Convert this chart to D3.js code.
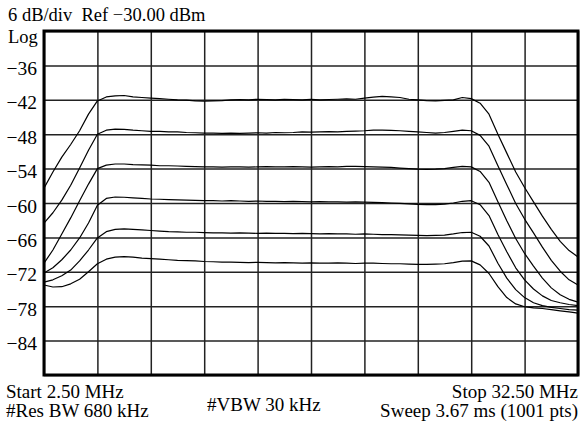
<!DOCTYPE html>
<html><head><meta charset="utf-8">
<script src="https://cdn.jsdelivr.net/npm/d3@7"></script>
<style>html,body{margin:0;padding:0;background:#fff;} svg{display:block;} text{white-space:pre;}</style>
</head><body>
<script>
const freqs = [2.5,3.0,3.5,4.0,4.5,5.0,5.5,6.0,6.5,7.0,7.5,8.0,8.5,9.0,9.5,10.0,10.5,11.0,11.5,12.0,12.5,13.0,13.5,14.0,14.5,15.0,15.5,16.0,16.5,17.0,17.5,18.0,18.5,19.0,19.5,20.0,20.5,21.0,21.5,22.0,22.5,23.0,23.5,24.0,24.5,25.0,25.5,26.0,26.5,27.0,27.5,28.0,28.5,29.0,29.5,30.0,30.5,31.0,31.5,32.0,32.5];
const trace1 = [-57.4,-54.6,-52.0,-49.8,-47.4,-44.5,-42.2,-41.5,-41.3,-41.25,-41.5,-41.6,-41.7,-41.8,-41.9,-42.0,-42.05,-42.2,-42.25,-42.2,-42.15,-42.0,-41.95,-42.0,-41.9,-41.95,-42.0,-41.9,-41.95,-42.0,-41.9,-42.0,-41.95,-41.9,-41.85,-41.9,-41.7,-41.55,-41.4,-41.5,-41.6,-41.9,-42.0,-42.15,-42.2,-42.1,-42.0,-41.6,-41.8,-42.6,-44.5,-48.0,-51.3,-54.6,-57.3,-59.8,-62.3,-64.6,-66.7,-68.3,-69.4];
const trace2 = [-63.5,-61.7,-59.5,-56.9,-53.9,-50.8,-48.0,-47.3,-47.1,-47.15,-47.3,-47.4,-47.5,-47.5,-47.6,-47.6,-47.7,-47.75,-47.8,-47.8,-47.85,-47.8,-47.85,-47.8,-47.75,-47.8,-47.7,-47.75,-47.7,-47.6,-47.65,-47.6,-47.55,-47.6,-47.5,-47.45,-47.4,-47.3,-47.3,-47.35,-47.4,-47.5,-47.6,-47.7,-47.8,-47.7,-47.5,-47.3,-47.4,-48.2,-50.1,-53.5,-56.8,-60.1,-62.8,-65.2,-67.7,-70.0,-71.9,-73.4,-74.3];
const trace3 = [-70.5,-68.2,-65.4,-62.6,-59.6,-56.7,-54.0,-53.4,-53.2,-53.2,-53.3,-53.35,-53.4,-53.5,-53.5,-53.55,-53.6,-53.65,-53.7,-53.7,-53.75,-53.7,-53.7,-53.75,-53.7,-53.65,-53.7,-53.7,-53.65,-53.7,-53.75,-53.7,-53.65,-53.7,-53.6,-53.6,-53.65,-53.7,-53.75,-53.8,-53.9,-54.0,-54.1,-54.15,-54.1,-54.0,-53.8,-53.6,-53.7,-54.5,-56.4,-59.8,-63.1,-66.2,-68.8,-71.0,-73.1,-74.8,-76.0,-76.8,-77.3];
const trace4 = [-72.2,-71.3,-69.9,-68.2,-66.1,-63.5,-60.4,-59.2,-58.95,-59.0,-59.1,-59.2,-59.3,-59.35,-59.4,-59.45,-59.5,-59.55,-59.6,-59.6,-59.65,-59.6,-59.65,-59.7,-59.65,-59.7,-59.7,-59.75,-59.7,-59.75,-59.8,-59.75,-59.8,-59.8,-59.85,-59.8,-59.85,-59.9,-59.95,-60.0,-60.05,-60.15,-60.25,-60.3,-60.3,-60.2,-60.0,-59.7,-59.6,-60.3,-62.2,-65.5,-68.5,-71.3,-73.4,-75.0,-76.2,-77.0,-77.4,-77.7,-77.9];
const trace5 = [-73.8,-73.4,-72.7,-71.7,-70.1,-68.2,-66.1,-65.0,-64.6,-64.5,-64.6,-64.7,-64.8,-64.9,-65.0,-65.05,-65.1,-65.1,-65.15,-65.2,-65.2,-65.25,-65.2,-65.25,-65.3,-65.25,-65.3,-65.3,-65.35,-65.3,-65.35,-65.4,-65.35,-65.4,-65.4,-65.45,-65.4,-65.45,-65.5,-65.5,-65.55,-65.6,-65.65,-65.7,-65.65,-65.6,-65.4,-65.15,-65.1,-65.8,-67.5,-70.5,-73.1,-75.1,-76.5,-77.4,-77.9,-78.2,-78.4,-78.6,-78.7];
const trace6 = [-74.3,-74.65,-74.6,-74.1,-73.3,-72.0,-70.6,-69.8,-69.45,-69.35,-69.45,-69.6,-69.7,-69.8,-69.9,-70.0,-70.05,-70.1,-70.2,-70.25,-70.3,-70.3,-70.35,-70.4,-70.35,-70.4,-70.45,-70.4,-70.45,-70.5,-70.45,-70.5,-70.5,-70.45,-70.5,-70.55,-70.5,-70.5,-70.55,-70.6,-70.6,-70.65,-70.7,-70.7,-70.65,-70.6,-70.4,-70.15,-70.1,-70.8,-72.3,-74.6,-76.5,-77.6,-78.1,-78.3,-78.4,-78.6,-78.8,-79.0,-79.2];
const xGrid = [2.5,5.5,8.5,11.5,14.5,17.5,20.5,23.5,26.5,29.5,32.5];
const yGrid = [-30,-36,-42,-48,-54,-60,-66,-72,-78,-84,-90];
const yTickLabels = ["−36","−42","−48","−54","−60","−66","−72","−78","−84"];
const yTickValues = [-36,-42,-48,-54,-60,-66,-72,-78,-84];
const headerText = "6 dB/div  Ref −30.00 dBm";
const scaleText = "Log";
const footLeft = ["Start 2.50 MHz", "#Res BW 680 kHz"];
const footMid = "#VBW 30 kHz";
const footRight = ["Stop 32.50 MHz", "Sweep 3.67 ms (1001 pts)"];

const W = 581, H = 424;
const L = 44, R = 578, T = 31, B = 375;
const svg = d3.select("body").append("svg").attr("width", W).attr("height", H)
  .style("font-family", "'Liberation Serif','Times New Roman',serif");
const x = d3.scaleLinear().domain([2.5, 32.5]).range([L, R]);
const y = d3.scaleLinear().domain([-90, -30]).range([B, T]);

// grid via axes
const gx = svg.append("g").attr("transform", `translate(0,${B})`)
  .call(d3.axisBottom(x).tickValues(xGrid).tickSize(-(B - T)).tickFormat(""));
gx.select(".domain").remove();
gx.selectAll("line").attr("stroke", "#222").attr("stroke-width", 1.5);
const gy = svg.append("g").attr("transform", `translate(${L},0)`)
  .call(d3.axisLeft(y).tickValues(yGrid).tickSize(-(R - L)).tickFormat(""));
gy.select(".domain").remove();
gy.selectAll("line").attr("stroke", "#222").attr("stroke-width", 1.5);

// traces
const line = d3.line().x((d, i) => x(freqs[i])).y(d => y(d)).curve(d3.curveLinear);
[trace1, trace2, trace3, trace4, trace5, trace6].forEach(t => {
  svg.append("path").datum(t).attr("d", line).attr("fill", "none")
    .attr("stroke", "#000").attr("stroke-width", 1.2).attr("stroke-linejoin", "round");
});

// frame
svg.append("rect").attr("x", L).attr("y", T).attr("width", R - L).attr("height", B - T)
  .attr("fill", "none").attr("stroke", "#000").attr("stroke-width", 3);

// y labels
svg.selectAll("text.ylab").data(yTickValues).enter().append("text")
  .attr("class", "ylab").attr("x", 37).attr("y", d => y(d) + 9.5)
  .attr("text-anchor", "end").attr("font-size", 19.5).text((d, i) => yTickLabels[i]);

svg.append("text").attr("x", 8).attr("y", 21).attr("font-size", 18.5).text(headerText);
svg.append("text").attr("x", 8).attr("y", 43).attr("font-size", 18.5).text(scaleText);

svg.append("text").attr("x", 6).attr("y", 398).attr("font-size", 19).text(footLeft[0]);
svg.append("text").attr("x", 6).attr("y", 417).attr("font-size", 19).text(footLeft[1]);
svg.append("text").attr("x", 207).attr("y", 411).attr("font-size", 19).text(footMid);
svg.append("text").attr("x", 578).attr("y", 398).attr("font-size", 19).attr("text-anchor", "end").text(footRight[0]);
svg.append("text").attr("x", 578).attr("y", 417).attr("font-size", 19).attr("text-anchor", "end").text(footRight[1]);
</script>
</body></html>
